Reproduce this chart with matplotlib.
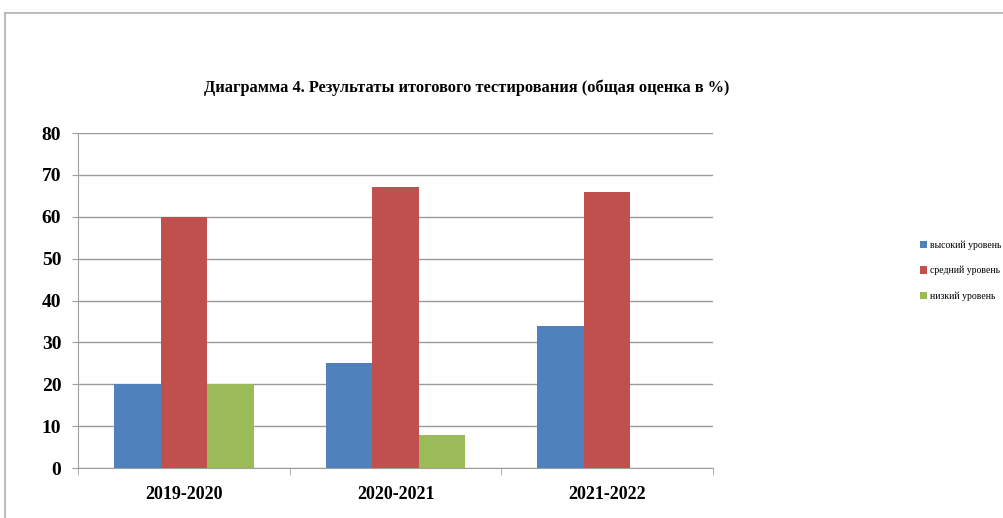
import numpy as np
import matplotlib.pyplot as plt
from matplotlib.lines import Line2D

# данные диаграммы
годы = ['2019-2020', '2020-2021', '2021-2022']
высокий = [20, 25, 34]
средний = [60, 67, 66]
низкий = [20, 8, 0]
подписи = ['высокий уровень', 'средний уровень', 'низкий уровень']
цвета = ['#4F81BD', '#C0504D', '#9BBB59']

plt.rcParams['font.family'] = ['Liberation Serif', 'DejaVu Serif']

fig = plt.figure(figsize=(10.04, 5.18), dpi=100)
ax = fig.add_axes([0.0777, 0.0965, 0.6325, 0.6467])

x = np.arange(len(годы))
w = 0.22
серии = [высокий, средний, низкий]
for i, (vals, c, lab) in enumerate(zip(серии, цвета, подписи)):
    ax.bar(x + (i - 1) * w, vals, width=w, color=c, label=lab, zorder=3)

ax.set_xlim(-0.5, 2.5)
ax.set_ylim(0, 80)
ax.set_yticks(range(0, 81, 10))
ax.set_xticks(x)
ax.set_xticklabels(годы, fontsize=13, fontweight='bold')
ax.set_xticks([-0.5, 0.5, 1.5, 2.5], minor=True)
ax.tick_params(axis='x', which='major', length=0, pad=13)
ax.tick_params(axis='x', which='minor', length=5, color='#a0a0a0')
ax.tick_params(axis='y', length=4, color='#a0a0a0', labelsize=14, pad=8)
for t in ax.get_yticklabels():
    t.set_fontweight('bold')
ax.grid(axis='y', color='#9a9a9a', linewidth=1, zorder=0)
for s in ['top', 'right']:
    ax.spines[s].set_visible(False)
ax.spines['left'].set_color('#a0a0a0')
ax.spines['bottom'].set_color('#a0a0a0')

fig.text(0.465, 0.83, 'Диаграмма 4. Результаты итогового тестирования (общая оценка в %)',
         ha='center', va='center', fontsize=11.8, fontweight='bold')

leg = fig.legend(loc='upper left', bbox_to_anchor=(0.916, 0.536), frameon=False,
                 fontsize=7, handlelength=0.75, handleheight=0.75, handletextpad=0.3,
                 labelspacing=1.65, borderaxespad=0, borderpad=0)

# рамка области диаграммы
fig.add_artist(Line2D([0.005, 1.0], [0.975, 0.975], color='#b0b0b0', linewidth=1.2))
fig.add_artist(Line2D([0.005, 0.005], [0.0, 0.975], color='#b0b0b0', linewidth=1.2))

fig.savefig('out.png', dpi=100)
